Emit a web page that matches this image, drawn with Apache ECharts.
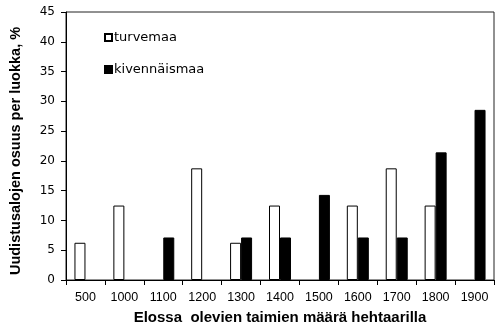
<!DOCTYPE html>
<html><head><meta charset="utf-8">
<script src="https://cdn.jsdelivr.net/npm/echarts@6/dist/echarts.min.js"></script>
<style>html,body{margin:0;padding:0;background:#fff}#c{width:500px;height:331px}</style>
</head><body><div id="c"></div>
<script>
const categories = ['500','1000','1100','1200','1300','1400','1500','1600','1700','1800','1900'];
const turvemaa = [6.25, 12.5, 0, 18.75, 6.25, 12.5, 0, 12.5, 18.75, 12.5, 0];
const kivennaismaa = [0, 0, 7.14, 0, 7.14, 7.14, 14.29, 7.14, 7.14, 21.43, 28.57];
const yTicks = [0,5,10,15,20,25,30,35,40,45];

const hideZero = arr => arr.map(v => v === 0 ? null : v);
const chart = echarts.init(document.getElementById('c'), null, {renderer:'canvas'});
const font = 'Arial, "Liberation Sans", sans-serif';
const wide = '"DejaVu Sans", sans-serif';
chart.setOption({
  animation:false,
  grid:{left:66,right:6,top:12,bottom:51,show:true,borderColor:'#222',borderWidth:1,backgroundColor:'transparent'},
  legend:{
    left:104, top:31, padding:0, orient:'vertical', itemGap:19, itemWidth:7, itemHeight:7,
    textStyle:{fontFamily:wide,fontSize:13,color:'#000',padding:[0,0,0,-3]},
    data:[{name:'turvemaa',icon:'rect'},{name:'kivennäismaa',icon:'rect'}]
  },
  xAxis:{
    type:'category', data:categories,
    axisLine:{lineStyle:{color:'#000',width:1}},
    axisTick:{show:true,alignWithLabel:false,length:5,lineStyle:{color:'#000'}},
    axisLabel:{fontFamily:font,fontSize:12.5,color:'#000',margin:11},
    name:'Elossa  olevien taimien määrä hehtaarilla', nameLocation:'middle', nameGap:30,
    nameTextStyle:{fontFamily:font,fontSize:15,fontWeight:'bold',color:'#000'}
  },
  yAxis:{
    type:'value', min:0, max:45, interval:5,
    axisLine:{show:true,lineStyle:{color:'#000',width:1}},
    axisTick:{show:true,length:5,lineStyle:{color:'#000'}},
    splitLine:{show:false},
    axisLabel:{fontFamily:wide,fontSize:12,color:'#000',margin:11,
      formatter:function(v){return yTicks.indexOf(v)>=0?String(v):'';}},
    name:'Uudistusalojen osuus per luokka, %', nameLocation:'middle', nameGap:43,
    nameTextStyle:{fontFamily:font,fontSize:14.5,fontWeight:'bold',color:'#000',padding:[0,0,0,-10]}
  },
  series:[
    {name:'turvemaa',type:'bar',data:hideZero(turvemaa),barWidth:11,barGap:'0%',
     itemStyle:{color:'#fff',borderColor:'#000',borderWidth:1}},
    {name:'kivennäismaa',type:'bar',data:hideZero(kivennaismaa),barWidth:11,barGap:'0%',
     itemStyle:{color:'#000',borderColor:'#000',borderWidth:1}}
  ]
});
</script></body></html>
